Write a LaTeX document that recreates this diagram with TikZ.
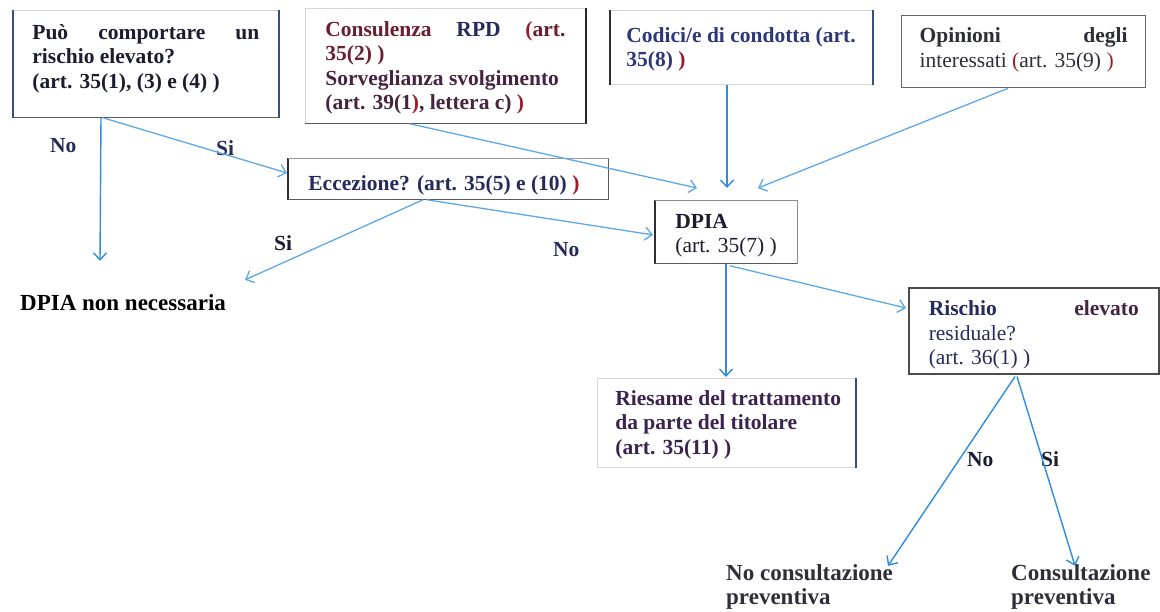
\documentclass[tikz,border=0pt]{standalone}
\usepackage{fontspec}
\setmainfont{Liberation Serif}
\usetikzlibrary{arrows.meta,calc}
\definecolor{navy}{HTML}{262B5C}
\definecolor{ink}{HTML}{1C1C30}
\definecolor{maroon}{HTML}{6A1F30}
\definecolor{plum}{HTML}{46243F}
\definecolor{redp}{HTML}{9A1C2A}
\definecolor{bluetxt}{HTML}{2E3878}
\definecolor{greytxt}{HTML}{2E2E38}
\definecolor{purp}{HTML}{3A2350}
\definecolor{arrowdk}{HTML}{2F8CE0}
\definecolor{arrowlt}{HTML}{5FA8E6}
\definecolor{edgedk}{HTML}{2E2E3A}
\definecolor{edgebl}{HTML}{3A4C86}
\definecolor{edgefaint}{HTML}{D4D6DC}
\newcommand{\bxt}[4]{\parbox[c][#2][t]{#1}{\fontsize{21.5}{24.5}\selectfont\raggedright\rule{0pt}{#3}#4}}
\newcommand{\jl}[1]{\makebox[\linewidth][s]{#1}}
\tikzset{
  box/.style={rectangle, inner ysep=0pt, anchor=north west, draw=edgefaint, line width=0.8pt},
  lab/.style={font=\bfseries\fontsize{21.5}{24.5}\selectfont, inner sep=0pt, anchor=base west},
  arr/.style={line width=1.4pt, draw=arrowdk, -{Straight Barb[length=7pt,width=13pt]}},
  arrl/.style={line width=1.3pt, draw=arrowlt, -{Straight Barb[length=7pt,width=13pt]}},
  dk/.style={line width=1.6pt, draw=edgedk},
  dkb/.style={line width=1.6pt, draw=edgebl},
  md/.style={line width=1.1pt, draw=black!65}
}
\begin{document}
\begin{tikzpicture}[x=1pt,y=-1pt]
\useasboundingbox (0,0) rectangle (1160,611);
\fill[white] (0,0) rectangle (1160,611);

% boxes
\node[box, inner xsep=19pt, text=ink] (A) at (13,10)
  {\bxt{227pt}{107pt}{29pt}{\bfseries\jl{Può comportare un}\\rischio elevato?\\(art. 35(1), (3) e (4) )}};
\node[box, inner xsep=20pt, text=maroon] (B) at (305,8)
  {\bxt{240pt}{115pt}{28pt}{\bfseries\jl{\textcolor{maroon}{Consulenza} \textcolor{navy}{RPD} \textcolor{redp}{(}art.}\\35(2) )\\\textcolor{plum}{Sorveglianza svolgimento}\\\textcolor{plum}{(art. 39(1}\textcolor{redp}{)}\textcolor{plum}{, lettera c)} \textcolor{redp}{)}}};
\node[box, inner xsep=16pt, text=bluetxt] (C) at (610,10)
  {\bxt{230pt}{74pt}{32pt}{\bfseries\mbox{Codici/e di condotta (art.}\\35(8) \textcolor{redp}{)}}};
\node[box, inner xsep=18pt, text=greytxt, draw=black!60, line width=1.3pt] (D) at (901,15)
  {\bxt{208pt}{72pt}{27pt}{\jl{\bfseries Opinioni degli}\\interessati \textcolor{redp}{(}art. 35(9) \textcolor{redp}{)}}};
\node[box, inner xsep=20pt, text=navy] (E) at (288,158)
  {\bxt{280pt}{41pt}{32pt}{\bfseries Eccezione? (art. 35(5) e (10) \textcolor{redp}{)}}};
\node[box, inner xsep=20pt, text=ink] (F) at (655,200)
  {\bxt{102pt}{63pt}{28pt}{\textbf{DPIA}\\(art. 35(7) )}};
\node[box, inner xsep=20pt, text=navy, draw=black!70, line width=1.5pt] (G) at (908,287)
  {\bxt{210pt}{86pt}{28pt}{\jl{\bfseries Rischio \textcolor{plum}{elevato}}\\residuale?\\(art. 36(1) )}};
\node[box, inner xsep=18pt, text=purp] (H) at (597,378)
  {\bxt{222pt}{89pt}{27pt}{\bfseries\mbox{Riesame del trattamento}\\\mbox{da parte del titolare}\\(art. 35(11) )}};

% box edges as scanned
\draw[dkb] (A.north west) -- (A.south west);
\draw[dkb] (A.north east) -- (A.south east);
\draw[md]  (A.south west) -- (A.south east);
\draw[line width=2pt, draw=black!85] (B.north east) -- (B.south east);
\draw[md]  (B.south west) -- (B.south east);
\draw[dk]  (C.north west) -- (C.south west);
\draw[dkb] (C.north east) -- (C.south east);
\draw[dk]  (E.north west) -- (E.south west);
\draw[md]  (E.south west) -- (E.south east) -- (E.north east);
\draw[draw=black!40, line width=0.9pt] (E.north west) -- (E.north east);
\draw[dk]  (F.north west) -- (F.south west);
\draw[md]  (F.south west) -- (F.south east);
\draw[draw=black!45, line width=0.9pt] (F.north west) -- (F.north east) -- (F.south east);
\draw[line width=1.8pt, draw=edgebl] (H.north east) -- (H.south east);

% free texts
\node[lab, text=navy] (noA) at (50,152) {No};
\node[lab, text=navy] (siA) at (216,155) {Si};
\node[lab, text=ink] (siE) at (274,250) {Si};
\node[lab, text=navy] (noE) at (553,256) {No};
\node[lab, text=black, font=\bfseries\fontsize{23}{26}\selectfont] (nn) at (20,310) {DPIA non necessaria};
\node[lab, text=ink] (noG) at (967,466) {No};
\node[lab, text=ink] (siG) at (1041,466) {Si};
\node[lab, text=greytxt, font=\bfseries\fontsize{23}{24.5}\selectfont] (ncp) at (726,580)
  {\parbox[t]{220pt}{\raggedright No consultazione\\preventiva}};
\node[lab, text=greytxt, font=\bfseries\fontsize{23}{24.5}\selectfont] (cp) at (1011,580)
  {\parbox[t]{160pt}{\raggedright Consultazione\\preventiva}};

% connectors
\draw[arr]  ($(A.south west)+(88,0)$) -- ($(nn.north west)+(80,-33)$);
\draw[arrl] ($(A.south west)+(90,0)$) -- ($(E.north west)+(-1,15)$);
\draw[arrl] ($(B.south west)+(105,0)$) -- ($(F.north west)+(42,-12)$);
\draw[arr]  ($(C.south west)+(117,0)$) -- ($(F.north west)+(72,-12)$);
\draw[arrl] ($(D.south west)+(107,0)$) -- ($(F.north west)+(103,-12)$);
\draw[arrl] ($(E.south west)+(135,0)$) -- ($(nn.north west)+(225,-14)$);
\draw[arrl] ($(E.south west)+(139,0)$) -- ($(F.west)+(-2,3)$);
\draw[arr]  ($(F.south west)+(71,0)$) -- ($(H.north west)+(129,-1)$);
\draw[arrl] ($(F.south west)+(75,2)$) -- ($(G.north west)+(-2,21)$);
\draw[arr]  ($(G.south west)+(107,2)$) -- ($(ncp.north west)+(162,2)$);
\draw[arr]  ($(G.south west)+(109,2)$) -- ($(cp.north west)+(64,2)$);
\end{tikzpicture}
\end{document}
